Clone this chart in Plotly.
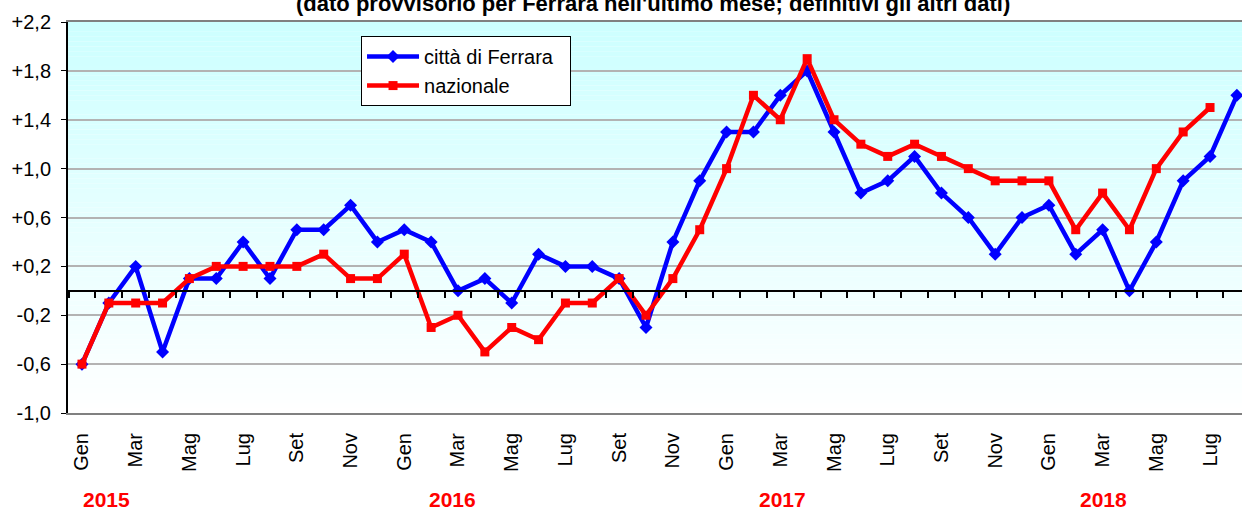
import plotly.graph_objects as go

# ---------------- data ----------------
month_names = ["Gen", "Feb", "Mar", "Apr", "Mag", "Giu", "Lug", "Ago", "Set", "Ott", "Nov", "Dic"]
years = [2015, 2016, 2017, 2018]
n_months = 44  # Gen 2015 .. Ago 2018
x_idx = list(range(n_months))

ferrara = [-0.6, -0.1, 0.2, -0.5, 0.1, 0.1, 0.4, 0.1, 0.5, 0.5, 0.7, 0.4,
           0.5, 0.4, 0.0, 0.1, -0.1, 0.3, 0.2, 0.2, 0.1, -0.3, 0.4, 0.9,
           1.3, 1.3, 1.6, 1.8, 1.3, 0.8, 0.9, 1.1, 0.8, 0.6, 0.3, 0.6,
           0.7, 0.3, 0.5, 0.0, 0.4, 0.9, 1.1, 1.6]
nazionale = [-0.6, -0.1, -0.1, -0.1, 0.1, 0.2, 0.2, 0.2, 0.2, 0.3, 0.1, 0.1,
             0.3, -0.3, -0.2, -0.5, -0.3, -0.4, -0.1, -0.1, 0.1, -0.2, 0.1, 0.5,
             1.0, 1.6, 1.4, 1.9, 1.4, 1.2, 1.1, 1.2, 1.1, 1.0, 0.9, 0.9,
             0.9, 0.5, 0.8, 0.5, 1.0, 1.3, 1.5]

x_tickvals = list(range(0, n_months, 2))
x_ticktext = [month_names[i % 12] for i in x_tickvals]
y_tickvals = [-1.0, -0.6, -0.2, 0.2, 0.6, 1.0, 1.4, 1.8, 2.2]
y_ticktext = ["-1,0", "-0,6", "-0,2", "+0,2", "+0,6", "+1,0", "+1,4", "+1,8", "+2,2"]
year_label_pos = [0.9, 13.8, 26.1, 38.05]

title_text = "(dato provvisorio per Ferrara nell'ultimo mese; definitivi gli altri dati)"

FONT = "Liberation Sans, Arial, sans-serif"
X_RANGE = [-0.52, 43.19]

fig = go.Figure()

fig.add_trace(go.Scatter(
    x=x_idx, y=ferrara, name="città di Ferrara\u00a0\u00a0", mode="lines+markers",
    line=dict(color="#0000FF", width=4.5),
    marker=dict(symbol="diamond", size=10, color="#0000FF"),
))
fig.add_trace(go.Scatter(
    x=x_idx[:len(nazionale)], y=nazionale, name="nazionale", mode="lines+markers",
    line=dict(color="#FF0000", width=4.5),
    marker=dict(symbol="square", size=9, color="#FF0000"),
))

# gradient background (cyan at top -> white at bottom)
n_bands = 80
y0, y1 = -1.0, 2.2
shapes = []
for k in range(n_bands):
    a = y0 + (y1 - y0) * k / n_bands
    b = y0 + (y1 - y0) * (k + 1) / n_bands
    t = (k + 0.5) / n_bands  # 0 bottom, 1 top
    r = round(255 - (255 - 204) * t)
    shapes.append(dict(type="rect", xref="paper", yref="y", x0=0, x1=1, y0=a, y1=b,
                       fillcolor=f"rgb({r},255,255)", line=dict(width=0), layer="below"))

annotations = [
    dict(text=f"<b>{y}</b>", x=p, xref="x", y=-0.2225, yref="paper",
         xanchor="center", yanchor="middle", showarrow=False,
         font=dict(family=FONT, size=21, color="#FF0000"))
    for y, p in zip(years, year_label_pos)
]
annotations.append(dict(
    text=f"<b>{title_text}</b>", x=0.498, xref="paper", y=1.0102, yref="paper",
    xanchor="center", yanchor="bottom", showarrow=False,
    font=dict(family=FONT, size=22, color="#000000")))

fig.update_layout(
    width=1242, height=510,
    margin=dict(l=68, r=0, t=22, b=97, pad=0, autoexpand=False),
    paper_bgcolor="white", plot_bgcolor="white",
    font=dict(family=FONT, size=20, color="black"),
    showlegend=True,
    legend=dict(x=0.2496, y=0.964, xanchor="left", yanchor="top",
                bgcolor="white", bordercolor="black", borderwidth=1,
                font=dict(family=FONT, size=20, color="black"),
                itemwidth=52, tracegroupgap=0),
    shapes=shapes,
    annotations=annotations,
    xaxis=dict(range=X_RANGE, tickmode="array", tickvals=x_tickvals, ticktext=x_ticktext,
               tickangle=-90, ticks="", showgrid=False, zeroline=False, automargin=False,
               showline=True, linecolor="#808080", linewidth=2, mirror=True,
               tickfont=dict(family=FONT, size=20, color="black"), ticklabelstandoff=10),
    xaxis2=dict(range=X_RANGE, overlaying="x", anchor="free", position=1.0 / 3.2,
                side="bottom", showline=True, linecolor="black", linewidth=2, automargin=False,
                ticks="outside", ticklen=6, tickwidth=2, tickcolor="black",
                tickmode="array", tickvals=[i + 0.5 for i in range(-1, n_months)],
                showticklabels=False, showgrid=False, zeroline=False),
    yaxis=dict(range=[-1.0, 2.2], tickmode="array", tickvals=y_tickvals, ticktext=y_ticktext,
               showgrid=True, gridcolor="#B3B3B3", gridwidth=2, zeroline=False, automargin=False,
               showline=True, linecolor="black", linewidth=2,
               ticks="outside", ticklen=5, tickwidth=1, tickcolor="black",
               tickfont=dict(family=FONT, size=20, color="black"), ticklabelstandoff=6),
)

# invisible trace to register the overlay axis carrying the zero-line ticks
fig.add_trace(go.Scatter(x=[X_RANGE[0]], y=[0], xaxis="x2", mode="markers",
                         marker=dict(opacity=0), showlegend=False, hoverinfo="skip"))

fig.write_html(
    "out.html",
    config={"displayModeBar": False},
    post_script="document.body.style.margin='0';document.body.style.overflow='hidden';",
)
